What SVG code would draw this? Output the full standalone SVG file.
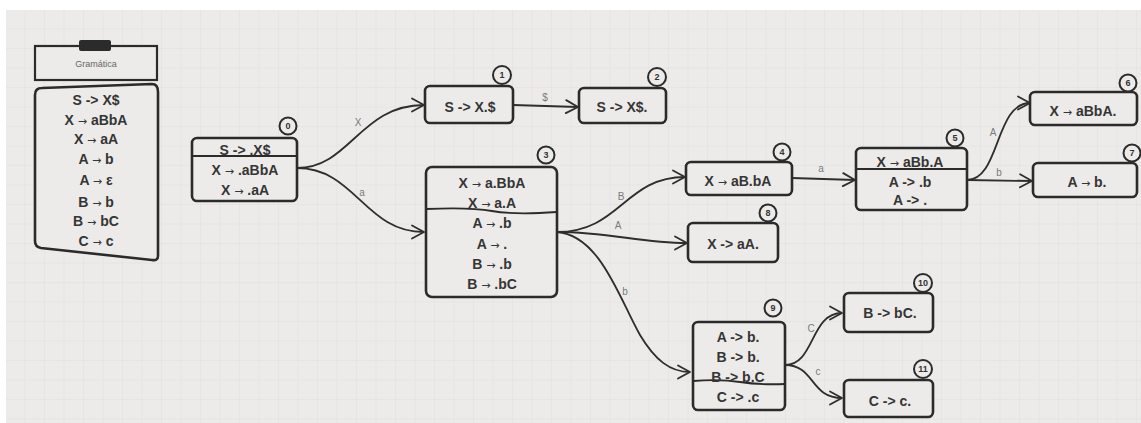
<svg xmlns="http://www.w3.org/2000/svg" width="1141" height="423" viewBox="0 0 1141 423">
<defs>
<pattern id="grid" width="19.5" height="19.5" patternUnits="userSpaceOnUse" x="6" y="10">
<path d="M19.5,0 L19.5,19.5 M0,19.5 L19.5,19.5" fill="none" stroke="#dfddda" stroke-width="0.8"/>
</pattern>
<marker id="arr" markerWidth="16" markerHeight="16" refX="14" refY="8" orient="auto" markerUnits="userSpaceOnUse">
<path d="M2,1.5 L14,8 L2,14.5" fill="none" stroke="#2e2e2e" stroke-width="1.8" stroke-linejoin="round" stroke-linecap="round"/>
</marker>
<style>
.box{fill:#ecebe9;stroke:#2b2b2b;stroke-width:2.6;stroke-linejoin:round}
.div{stroke:#2b2b2b;stroke-width:1.8;fill:none}
.t{font-family:"Liberation Sans",Arial,sans-serif;font-weight:bold;font-size:14px;fill:#353535;text-anchor:middle}
.ar{font-family:"DejaVu Sans",sans-serif;font-weight:normal;font-size:11px}
.badge{fill:#ecebe9;stroke:#2b2b2b;stroke-width:2}
.bt{font-family:"Liberation Sans",Arial,sans-serif;font-weight:bold;font-size:9px;fill:#333;text-anchor:middle}
.edge{fill:none;stroke:#2e2e2e;stroke-width:1.8;marker-end:url(#arr)}
.lbl{font-family:"Liberation Sans",Arial,sans-serif;font-size:10px;fill:#7a7a7a;text-anchor:middle}
</style>
</defs>
<rect width="1141" height="423" fill="#ffffff"/>
<rect x="6" y="10" width="1135" height="413" fill="#ecebe9"/>
<rect x="6" y="10" width="1135" height="413" fill="url(#grid)"/>

<g id="grammar">
<rect x="35" y="46" width="122" height="34" fill="#ecebe9" stroke="#2b2b2b" stroke-width="2.2"/>
<rect x="79" y="40" width="32" height="11" rx="2" fill="#2b2b2b"/>
<text x="96" y="67" style="font-family:'Liberation Sans',Arial,sans-serif;font-size:9px;fill:#666;text-anchor:middle">Gramática</text>
<path d="M42,88 L152,84 Q158,84 158,92 L158,256 Q158,261 152,260 L41,248 Q35,247 35,241 L35,95 Q35,88 42,88 Z" class="box"/>
<text class="t" x="96" y="105">S -&gt; X$</text>
<text class="t" x="96" y="125">X <tspan class="ar">→</tspan> aBbA</text>
<text class="t" x="96" y="144">X <tspan class="ar">→</tspan> aA</text>
<text class="t" x="96" y="164">A <tspan class="ar">→</tspan> b</text>
<text class="t" x="96" y="185">A <tspan class="ar">→</tspan> ε</text>
<text class="t" x="96" y="207">B <tspan class="ar">→</tspan> b</text>
<text class="t" x="96" y="226">B <tspan class="ar">→</tspan> bC</text>
<text class="t" x="96" y="246">C <tspan class="ar">→</tspan> c</text>
</g>

<g id="connectors">
<path class="edge" d="M297,168 C350,168 360,105 424,105"/>
<path class="edge" d="M297,168 C355,168 365,232 424,232"/>
<path class="edge" d="M513,105 L578,107"/>
<path class="edge" d="M557,232 C620,232 625,177 685,177"/>
<path class="edge" d="M557,232 C610,232 640,243 687,243"/>
<path class="edge" d="M557,232 C600,235 620,300 640,335 C655,360 670,372 690,372"/>
<path class="edge" d="M792,178 L855,180"/>
<path class="edge" d="M967,180 C1000,180 995,103 1030,103"/>
<path class="edge" d="M967,180 L1032,181"/>
<path class="edge" d="M785,365 C815,365 810,313 842,313"/>
<path class="edge" d="M785,365 C815,365 810,398 842,398"/>
<text class="lbl" x="358" y="126">X</text>
<text class="lbl" x="362" y="196">a</text>
<text class="lbl" x="545" y="101">$</text>
<text class="lbl" x="621" y="200">B</text>
<text class="lbl" x="618" y="229">A</text>
<text class="lbl" x="625" y="295">b</text>
<text class="lbl" x="821" y="172">a</text>
<text class="lbl" x="993" y="136">A</text>
<text class="lbl" x="999" y="176">b</text>
<text class="lbl" x="811" y="332">C</text>
<text class="lbl" x="818" y="375">c</text>
</g>

<g id="node0">
<rect class="box" x="192" y="138" width="105" height="63" rx="5"/>
<line class="div" x1="192" y1="156" x2="297" y2="156"/>
<text class="t" x="245" y="155">S -&gt; .X$</text>
<text class="t" x="245" y="175">X <tspan class="ar">→</tspan> .aBbA</text>
<text class="t" x="245" y="195">X <tspan class="ar">→</tspan> .aA</text>
<circle class="badge" cx="288" cy="126" r="8.5"/>
<text class="bt" x="288" y="129">0</text>
</g>

<g id="node1">
<rect class="box" x="425" y="86" width="88" height="37" rx="5"/>
<text class="t" x="470" y="112">S -&gt; X.$</text>
<circle class="badge" cx="502" cy="75" r="9"/>
<text class="bt" x="502" y="78">1</text>
</g>

<g id="node2">
<rect class="box" x="579" y="88" width="87" height="35" rx="5"/>
<text class="t" x="622" y="112">S -&gt; X$.</text>
<circle class="badge" cx="657" cy="77" r="9"/>
<text class="bt" x="657" y="80">2</text>
</g>

<g id="node3">
<rect class="box" x="426" y="167" width="131" height="130" rx="6"/>
<path class="div" d="M426,209 Q470,207 492,211 T557,212"/>
<text class="t" x="492" y="188">X <tspan class="ar">→</tspan> a.BbA</text>
<text class="t" x="492" y="208">X <tspan class="ar">→</tspan> a.A</text>
<text class="t" x="492" y="228">A <tspan class="ar">→</tspan> .b</text>
<text class="t" x="492" y="249">A <tspan class="ar">→</tspan> .</text>
<text class="t" x="492" y="269">B <tspan class="ar">→</tspan> .b</text>
<text class="t" x="492" y="289">B <tspan class="ar">→</tspan> .bC</text>
<circle class="badge" cx="546" cy="155" r="8.5"/>
<text class="bt" x="546" y="158">3</text>
</g>

<g id="node4">
<rect class="box" x="686" y="162" width="106" height="33" rx="5"/>
<text class="t" x="738" y="186">X <tspan class="ar">→</tspan> aB.bA</text>
<circle class="badge" cx="782" cy="152" r="8.5"/>
<text class="bt" x="782" y="155">4</text>
</g>

<g id="node8">
<rect class="box" x="688" y="223" width="90" height="39" rx="5"/>
<text class="t" x="733" y="249">X -&gt; aA.</text>
<circle class="badge" cx="768" cy="213" r="8.5"/>
<text class="bt" x="768" y="216">8</text>
</g>

<g id="node5">
<rect class="box" x="856" y="148" width="111" height="62" rx="5"/>
<line class="div" x1="856" y1="169" x2="967" y2="169"/>
<text class="t" x="910" y="167">X <tspan class="ar">→</tspan> aBb.A</text>
<text class="t" x="910" y="187">A -&gt; .b</text>
<text class="t" x="910" y="205">A -&gt; .</text>
<circle class="badge" cx="955" cy="138" r="8.5"/>
<text class="bt" x="955" y="141">5</text>
</g>

<g id="node6">
<rect class="box" x="1030" y="92" width="107" height="33" rx="5"/>
<text class="t" x="1083" y="116">X <tspan class="ar">→</tspan> aBbA.</text>
<circle class="badge" cx="1128" cy="83" r="8.5"/>
<text class="bt" x="1128" y="86">6</text>
</g>

<g id="node7">
<rect class="box" x="1033" y="163" width="104" height="34" rx="5"/>
<text class="t" x="1087" y="187">A <tspan class="ar">→</tspan> b.</text>
<circle class="badge" cx="1132" cy="153" r="8.5"/>
<text class="bt" x="1132" y="156">7</text>
</g>

<g id="node9">
<rect class="box" x="693" y="322" width="92" height="88" rx="5"/>
<path class="div" d="M693,381 Q720,379 740,382 T785,384"/>
<text class="t" x="738" y="342">A -&gt; b.</text>
<text class="t" x="738" y="362">B -&gt; b.</text>
<text class="t" x="738" y="382">B -&gt; b.C</text>
<text class="t" x="738" y="402">C -&gt; .c</text>
<circle class="badge" cx="773" cy="308" r="8.5"/>
<text class="bt" x="773" y="311">9</text>
</g>

<g id="node10">
<rect class="box" x="844" y="293" width="89" height="39" rx="5"/>
<text class="t" x="890" y="318">B -&gt; bC.</text>
<circle class="badge" cx="923" cy="283" r="9"/>
<text class="bt" x="923" y="286">10</text>
</g>

<g id="node11">
<rect class="box" x="844" y="380" width="89" height="37" rx="5"/>
<text class="t" x="890" y="406">C -&gt; c.</text>
<circle class="badge" cx="923" cy="369" r="9"/>
<text class="bt" x="923" y="372">11</text>
</g>
</svg>
